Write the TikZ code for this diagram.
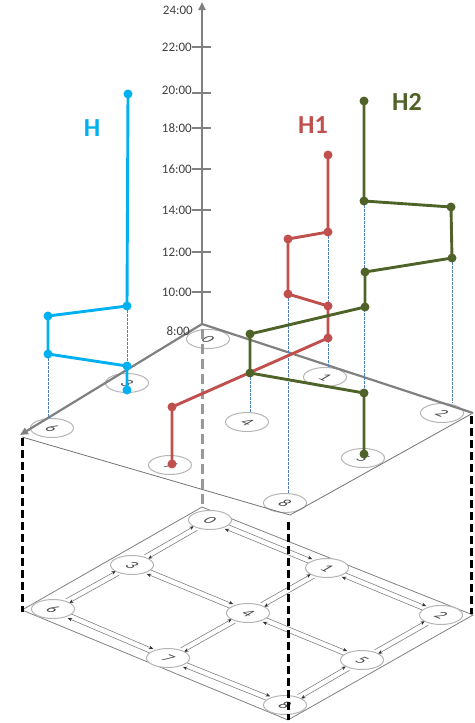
\documentclass[tikz,border=0pt]{standalone}
\usepackage{fontspec}
\setmainfont{Carlito}
\usetikzlibrary{arrows.meta,calc,shapes.geometric}

\definecolor{hcyan}{HTML}{00B0F0}
\definecolor{hred}{HTML}{C0504D}
\definecolor{hgreen}{HTML}{4F6228}
\definecolor{axisgray}{HTML}{808080}
\definecolor{guideblue}{HTML}{4A80C8}
\definecolor{ringgray}{HTML}{B4B4B4}

\tikzset{
  station/.style={ellipse, draw=ringgray, line width=1pt, fill=white,
    minimum width=43pt, minimum height=19pt, inner sep=0pt},
  stationlabel/.style={transform shape, cm={0.925,-0.379,0.867,0.5,(0,0)},
    font=\fontsize{16}{16}\selectfont, text=black!70, inner sep=0pt},
  rail/.style={draw=black!50, line width=0.6pt,
    -{Stealth[length=4.5pt,width=3.6pt,color=black!80]},
    shorten <=16pt, shorten >=17pt},
  axisline/.style={draw=axisgray, line width=2.2pt},
  tick/.style={draw=axisgray, line width=1.8pt},
  ticklabel/.style={anchor=east, inner sep=0pt, text=black!75,
    font=\fontsize{13}{13}\selectfont},
  plateedge/.style={draw=black!55, line width=0.8pt},
  pillar/.style={draw=black, line width=3pt, dash pattern=on 8pt off 4pt},
  centrepillar/.style={draw=black!40, line width=3pt, dash pattern=on 10pt off 5pt},
  guide/.style={draw=guideblue, line width=0.7pt, dash pattern=on 2.5pt off 1.5pt},
  route/.style={line width=2.9pt, line join=round},
  routelabel/.style={font=\fontsize{26}{26}\selectfont\bfseries, inner sep=0pt},
}

% a pair of opposite rails between two stations
\newcommand\railpair[2]{%
  \draw[rail] ($(#1)!2.6pt!90:(#2)$) -- ($(#2)!2.6pt!-90:(#1)$);
  \draw[rail] ($(#2)!2.6pt!90:(#1)$) -- ($(#1)!2.6pt!-90:(#2)$);}

% a dot at every stop of a route
\newcommand\routedots[2]{%
  \foreach \p in {#2} \fill[#1] (\p) circle (4.5pt);}

\begin{document}
\begin{tikzpicture}[x=1pt,y=-1pt]
\useasboundingbox (0,0) rectangle (474,723);

% ---------- lower plate: the network ----------
\draw[plateedge, draw=black!50] (202,507) -- (473,615) -- (288,720) -- (22,610) -- cycle;

\coordinate (b0) at (210,520);
\coordinate (b1) at (327,568);
\coordinate (b2) at (441,615);
\coordinate (b3) at (132,565);
\coordinate (b4) at (248,613);
\coordinate (b5) at (362,660);
\coordinate (b6) at (53,609);
\coordinate (b7) at (168,658);
\coordinate (b8) at (285,705);

\railpair{b0}{b1}\railpair{b1}{b2}
\railpair{b3}{b4}\railpair{b4}{b5}
\railpair{b6}{b7}\railpair{b7}{b8}
\railpair{b0}{b3}\railpair{b3}{b6}
\railpair{b1}{b4}\railpair{b4}{b7}
\railpair{b2}{b5}\railpair{b5}{b8}

\foreach \n in {0,...,8} {
  \node[station] (B\n) at (b\n) {};
  \node[stationlabel] at (B\n) {\n};
}

% ---------- pillars joining the two plates ----------
\draw[pillar] (22,438) -- (22,612);
\draw[pillar] (471,416) -- (471,614);
\draw[pillar] (288,522) -- (288,720);

% ---------- upper plate: time origin 8:00 ----------
\coordinate (o) at (202,324);
\coordinate (tl) at (20,435);
\coordinate (tr) at (473,413);
\coordinate (tb) at (290,515);

\coordinate (t0) at (208,339);
\coordinate (t1) at (325,377);
\coordinate (t2) at (442,413);
\coordinate (t3) at (127,383);
\coordinate (t4) at (247,422);
\coordinate (t5) at (363,458);
\coordinate (t6) at (52,428);
\coordinate (t7) at (170,465);
\coordinate (t8) at (285,503);

\foreach \n in {0,...,8} {
  \node[station, fill=none] (T\n) at (t\n) {};
  \node[stationlabel] at (T\n) {\n};
}

\draw[plateedge] (22,437) -- (tb) -- (tr);
\draw[centrepillar] (202,329) -- (202,506);

% axes
\draw[axisline, -{Triangle[length=8pt,width=7pt]}] (o) -- (202,2);
\draw[axisline, -{Triangle[length=8pt,width=7pt]}] (o) -- (tl);
\draw[axisline] (o) -- (tr);

% time ticks
\foreach \y in {47,93,128,169,210,252,292} {
  \draw[tick] (192,\y) -- (211,\y);
}
\node[ticklabel] at (193,10) {24:00};
\node[ticklabel] at (192,47) {22:00};
\node[ticklabel] at (192,90) {20:00};
\node[ticklabel] at (192,128) {18:00};
\node[ticklabel] at (192,169) {16:00};
\node[ticklabel] at (192,210) {14:00};
\node[ticklabel] at (192,252) {12:00};
\node[ticklabel] at (192,292) {10:00};
\node[ticklabel] at (190,331) {8:00};

% ---------- routes ----------
% H
\coordinate (ha) at (128,94);
\coordinate (hb) at (127,306);
\coordinate (hc) at (48,316);
\coordinate (hd) at (48,354);
\coordinate (he) at (127,366);
\coordinate (hf) at (127,390);
% H1
\coordinate (ra) at (328,155);
\coordinate (rb) at (328,232);
\coordinate (rc) at (288,239);
\coordinate (rd) at (288,294);
\coordinate (re) at (328,306);
\coordinate (rf) at (328,338);
\coordinate (rg) at (172,407);
\coordinate (rh) at (172,464);
% H2
\coordinate (ga) at (364,101);
\coordinate (gb) at (364,201);
\coordinate (gc) at (451,207);
\coordinate (gd) at (452,258);
\coordinate (ge) at (365,272);
\coordinate (gf) at (365,307);
\coordinate (gg) at (250,334);
\coordinate (gh) at (250,373);
\coordinate (gi) at (364,393);
\coordinate (gj) at (364,454);

% drop lines to the stations
\draw[guide] (hb) -- (he);
\draw[guide] (hd) -- (hd |- T6.north);
\draw[guide] (rb) -- (rb |- T1.north);
\draw[guide] (rd) -- (rd |- T8.north);
\draw[guide] (gb) -- (gi);
\draw[guide] (gd) -- (gd |- T2.north);
\draw[guide] (gh) -- (gh |- T4.north);

\draw[route, hcyan] (ha) -- (hb) -- (hc) -- (hd) -- (he) -- (hf);
\routedots{hcyan}{ha,hb,hc,hd,he,hf}

\draw[route, hred] (ra) -- (rb) -- (rc) -- (rd) -- (re) -- (rf) -- (rg) -- (rh);
\routedots{hred}{ra,rb,rc,rd,re,rf,rg,rh}

\draw[route, hgreen] (ga) -- (gb) -- (gc) -- (gd) -- (ge) -- (gf) -- (gg) -- (gh) -- (gi) -- (gj);
\routedots{hgreen}{ga,gb,gc,gd,ge,gf,gg,gh,gi,gj}

\node[routelabel, text=hcyan] (labH) at (92,128) {H};
\node[routelabel, text=hred] (labH1) at (313,125) {H1};
\node[routelabel, text=hgreen] (labH2) at (407,102) {H2};
\end{tikzpicture}
\end{document}
